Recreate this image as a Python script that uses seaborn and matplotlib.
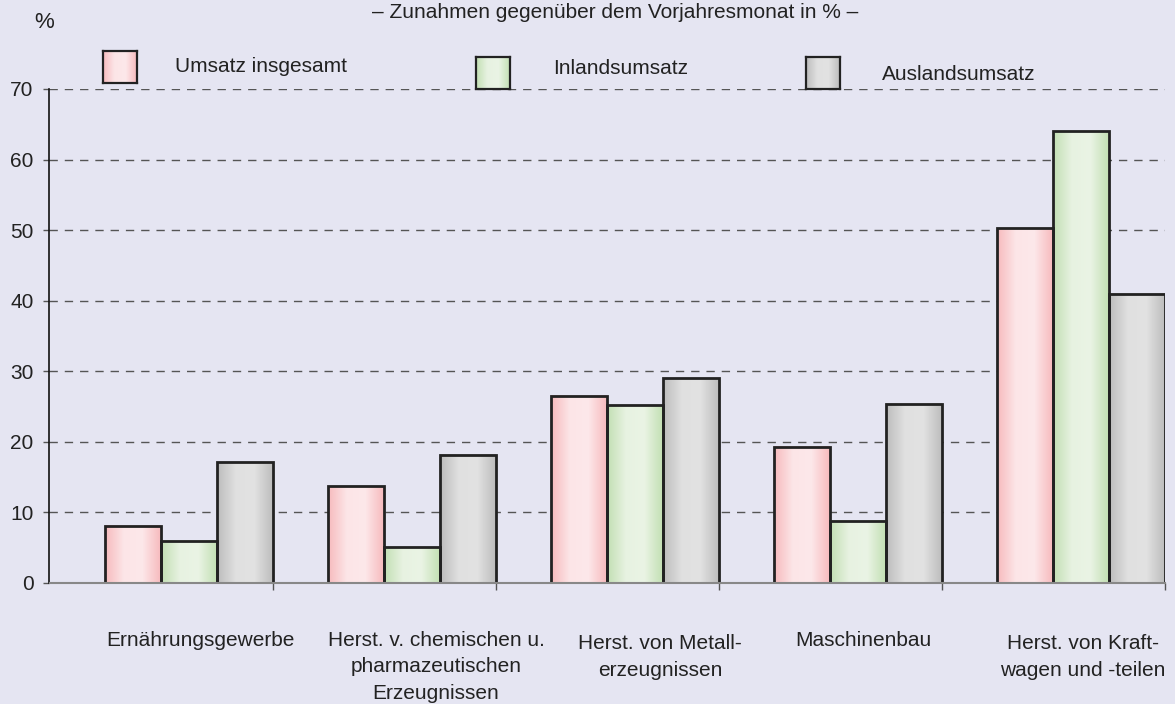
import numpy as np
import pandas as pd
import matplotlib
matplotlib.use("Agg")
import matplotlib.pyplot as plt
import matplotlib.transforms as mtrans
from matplotlib.colors import LinearSegmentedColormap
import seaborn as sns

# data
categories = ["Ernährungsgewerbe",
              "Herst. v. chemischen u.\npharmazeutischen\nErzeugnissen",
              "Herst. von Metall-\nerzeugnissen",
              "Maschinenbau",
              "Herst. von Kraft-\nwagen und -teilen"]
series = ["Umsatz insgesamt", "Inlandsumsatz", "Auslandsumsatz"]
umsatz = [8.1, 13.7, 26.5, 19.3, 50.3]
inland = [6.0, 5.1, 25.2, 8.8, 64.0]
ausland = [17.1, 18.2, 29.0, 25.4, 41.0]
yticks = [0, 10, 20, 30, 40, 50, 60, 70]

BG = "#E5E5F2"
grads = {
    "Umsatz insgesamt": ["#F7BBBE", "#FCE5E7", "#FDE8EA", "#F7BBBE"],
    "Inlandsumsatz": ["#C3E0B4", "#E7F2E1", "#EAF4E5", "#C3E0B4"],
    "Auslandsumsatz": ["#BDBDBD", "#E0E0E0", "#E2E2E2", "#BDBDBD"],
}

df = pd.DataFrame({
    "cat": categories * 3,
    "serie": [s for s in series for _ in categories],
    "wert": umsatz + inland + ausland,
})

sns.set_theme(style="ticks")
plt.rcParams["font.family"] = ["Liberation Sans", "DejaVu Sans"]

fig = plt.figure(figsize=(11.75, 7.04), dpi=100)
fig.patch.set_facecolor(BG)
ax = fig.add_axes([49.5 / 1175, 121 / 704, (1165 - 49.5) / 1175, 494 / 704])
ax.set_facecolor(BG)

sns.barplot(data=df, x="cat", y="wert", hue="serie", order=categories,
            hue_order=series, width=0.753, gap=0, ax=ax, legend=False,
            edgecolor="#222222", linewidth=2.0, errorbar=None)

def gradient_img(name):
    cmap = LinearSegmentedColormap.from_list(name, grads[name])
    return cmap(np.linspace(0, 1, 64))[None, :, :]

for s, cont in zip(series, ax.containers):
    img = gradient_img(s)
    for p in cont.patches:
        x0, y0 = p.get_x(), p.get_y()
        w, h = p.get_width(), p.get_height()
        ax.imshow(img, extent=[x0, x0 + w, y0, y0 + h], aspect="auto",
                  zorder=p.get_zorder() - 0.1, interpolation="bicubic")
        p.set_facecolor("none")

ax.set_xlim(-0.6256, 4.3767)
ax.set_ylim(0, 70)
ax.set_yticks(yticks)
ax.set_yticklabels([str(v) for v in yticks], fontsize=15, color="#222222")
ax.tick_params(axis="y", length=4.5, width=1, color="#555555", pad=7)
ax.set_xticks(range(len(categories)))
ax.set_xticklabels([""] * len(categories))
ax.tick_params(axis="x", length=0)
ax.set_xticks([i + 0.3765 for i in range(len(categories))], minor=True)
ax.tick_params(axis="x", which="minor", length=5, width=1, color="#555555")
ax.set_xlabel("")
ax.set_ylabel("")

# category labels sit a little right of the group centres in the original
label_dx = [11, 24, 25, 5, 2]
label_dy = [0, 0, 3, 0, 3]
for i, (lab, dx, dy) in enumerate(zip(categories, label_dx, label_dy)):
    off = mtrans.ScaledTranslation(dx / 100, -(48 + dy) / 100, fig.dpi_scale_trans)
    ax.text(i, 0, lab, transform=ax.get_xaxis_transform() + off,
            ha="center", va="top", fontsize=15, color="#222222",
            linespacing=1.5, multialignment="center")

for v in yticks[1:]:
    ax.axhline(v, color="#555555", lw=1, ls=(0, (6, 5)), zorder=0.5)

for side in ["top", "right"]:
    ax.spines[side].set_visible(False)
ax.spines["left"].set_color("#111111")
ax.spines["left"].set_linewidth(1.2)
ax.spines["bottom"].set_color("#888888")
ax.spines["bottom"].set_linewidth(1.5)

fig.text(44 / 1175, 1 - 22 / 704, "%", fontsize=16, ha="center", va="center",
         color="#222222")
fig.text(615 / 1175, 1 - 13 / 704, "– Zunahmen gegenüber dem Vorjahresmonat in % –",
         fontsize=15, ha="center", va="center", color="#222222")

# legend boxes: (box x, box top y, text x, text center y) in pixels
leg = [(103, 51, 175, 67), (476, 57, 553, 68), (806, 57, 882, 74)]
for s, (bx, by, tx, ty) in zip(series, leg):
    lax = fig.add_axes([bx / 1175, 1 - (by + 32) / 704, 34 / 1175, 32 / 704])
    lax.imshow(gradient_img(s), aspect="auto", interpolation="bicubic")
    lax.set_xticks([])
    lax.set_yticks([])
    for sp in lax.spines.values():
        sp.set_color("#222222")
        sp.set_linewidth(1.6)
    fig.text(tx / 1175, 1 - ty / 704, s, fontsize=15, ha="left", va="center",
             color="#222222")

fig.savefig("out.png", dpi=100, facecolor=BG)
